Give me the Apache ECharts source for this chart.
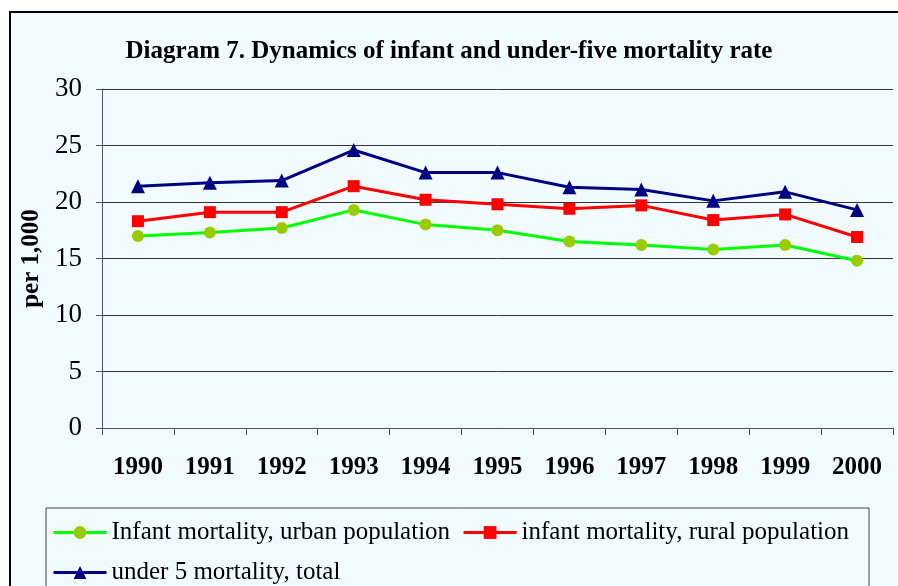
<!DOCTYPE html>
<html>
<head>
<meta charset="utf-8">
<script src="https://cdn.jsdelivr.net/npm/echarts@6/dist/echarts.min.js"></script>
<style>
  html, body { margin: 0; padding: 0; background: #fff; }
  #chart { width: 898px; height: 586px; }
</style>
</head>
<body>
<div id="chart"></div>
<script>
// values
const years = ['1990', '1991', '1992', '1993', '1994', '1995', '1996', '1997', '1998', '1999', '2000']
const urbanInfant = [17.0, 17.3, 17.7, 19.3, 18.0, 17.5, 16.5, 16.2, 15.8, 16.2, 14.8]
const ruralInfant = [18.3, 19.1, 19.1, 21.4, 20.2, 19.8, 19.4, 19.7, 18.4, 18.9, 16.9]
const under5Total = [21.4, 21.7, 21.9, 24.6, 22.6, 22.6, 21.3, 21.1, 20.1, 20.9, 19.3]

const seriesNames = [
    'Infant mortality, urban population',
    'infant mortality, rural population',
    'under 5 mortality, total'
]

const serif = '"Liberation Serif", "Times New Roman", serif'
const bg = '#F0FAFF'

const myChart = echarts.init(document.getElementById('chart'))

const legendText = {fontFamily: serif, fontSize: 25, color: '#000'}

myChart.setOption({
    backgroundColor: '#fff',
    animation: false,
    graphic: [
        // outer chart frame
        {type: 'rect', z: -20, shape: {x: 10, y: 12, width: 900, height: 600},
            style: {fill: bg, stroke: '#000', lineWidth: 2}},
        // legend frame
        {type: 'rect', z: -10, shape: {x: 46, y: 508, width: 823, height: 90},
            style: {fill: bg, stroke: '#444', lineWidth: 1}}
    ],
    title: {
        text: 'Diagram 7. Dynamics of infant and under-five mortality rate',
        left: 'center',
        top: 34,
        textStyle: {fontFamily: serif, fontSize: 25, fontWeight: 'bold', color: '#000'}
    },
    legend: [
        {
            data: [seriesNames[0], seriesNames[1]],
            left: 47, top: 515,
            itemWidth: 53, itemHeight: 16, itemGap: 12,
            lineStyle: {width: 3},
            textStyle: legendText
        },
        {
            data: [seriesNames[2]],
            left: 47, top: 555,
            itemWidth: 53, itemHeight: 16,
            lineStyle: {width: 3},
            textStyle: legendText
        }
    ],
    grid: {left: 102, right: 5, top: 89, bottom: 158},
    xAxis: {
        type: 'category',
        data: years,
        boundaryGap: true,
        axisLine: {lineStyle: {color: '#555', width: 1}},
        axisTick: {show: true, length: 7, lineStyle: {color: '#555'}},
        axisLabel: {
            margin: 27,
            fontFamily: serif, fontSize: 25, fontWeight: 'bold', color: '#000'
        }
    },
    yAxis: {
        type: 'value',
        min: 0, max: 30, interval: 5,
        name: 'per 1,000',
        nameLocation: 'middle',
        nameGap: 57,
        nameRotate: 90,
        nameTextStyle: {fontFamily: serif, fontSize: 25, fontWeight: 'bold', color: '#000'},
        axisLine: {show: true, lineStyle: {color: '#555', width: 1}},
        axisTick: {show: true, length: 6, lineStyle: {color: '#555'}},
        splitLine: {lineStyle: {color: '#333', width: 1}},
        axisLabel: {margin: 20, fontFamily: serif, fontSize: 27, color: '#000'}
    },
    series: [
        {
            name: seriesNames[0], type: 'line', data: urbanInfant,
            symbol: 'circle', symbolSize: 12,
            lineStyle: {color: '#00FF00', width: 3},
            itemStyle: {color: '#99CC00'}
        },
        {
            name: seriesNames[1], type: 'line', data: ruralInfant,
            symbol: 'rect', symbolSize: 12,
            lineStyle: {color: '#FF0000', width: 3},
            itemStyle: {color: '#FF0000'}
        },
        {
            name: seriesNames[2], type: 'line', data: under5Total,
            symbol: 'triangle', symbolSize: 14,
            lineStyle: {color: '#000080', width: 3},
            itemStyle: {color: '#000080'}
        }
    ]
})
</script>
</body>
</html>
